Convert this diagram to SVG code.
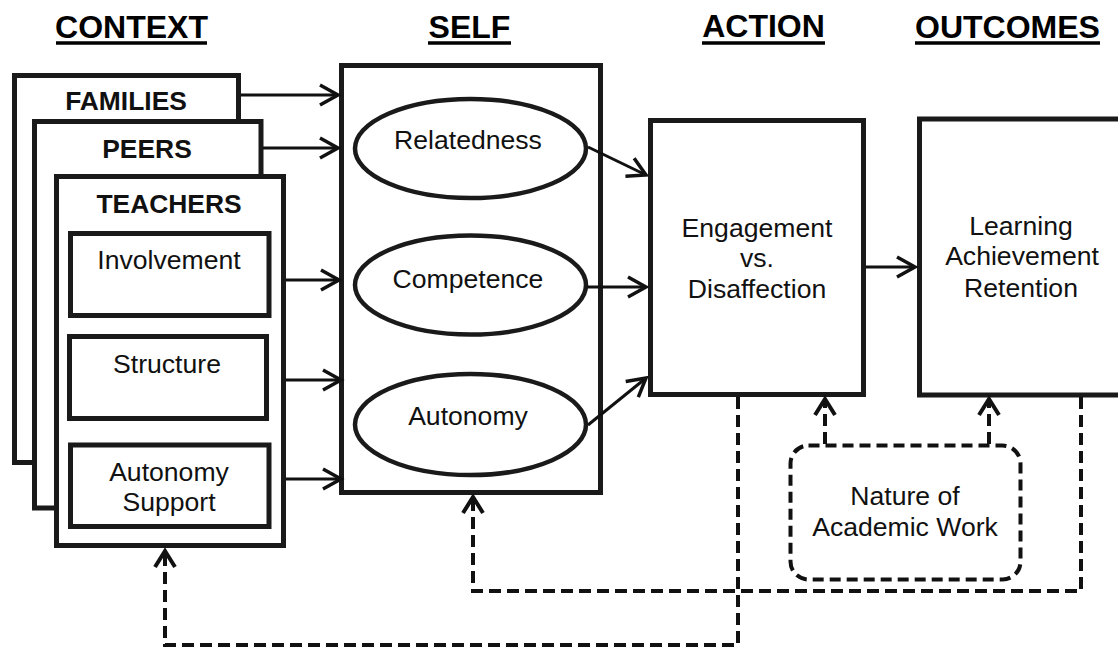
<svg xmlns="http://www.w3.org/2000/svg" width="1118" height="648" viewBox="0 0 1118 648">
  <defs>
    <marker id="arr" viewBox="-22 -12 26 24" refX="0" refY="0" markerWidth="26" markerHeight="24" markerUnits="userSpaceOnUse" orient="auto">
      <path d="M-18,-10 L0,0 L-18,10" fill="none" stroke="#111" stroke-width="3.5" stroke-dasharray="none"/>
    </marker>
    <marker id="darr" viewBox="-22 -12 26 24" refX="0" refY="0" markerWidth="26" markerHeight="24" markerUnits="userSpaceOnUse" orient="auto">
      <path d="M-16,-10 L0,0 L-16,10" fill="none" stroke="#111" stroke-width="4" stroke-dasharray="none"/>
    </marker>
  </defs>
  <style>
    .box { fill: #fff; stroke: #1a1a1a; stroke-width: 5; }
    .ell { fill: #fff; stroke: #1a1a1a; stroke-width: 4.5; }
    .t { font-family: "Liberation Sans", Arial, sans-serif; font-size: 26.6px; fill: #111; text-anchor: middle; }
    .tb { font-family: "Liberation Sans", Arial, sans-serif; font-size: 26.4px; font-weight: bold; fill: #111; text-anchor: middle; }
    .h { font-family: "Liberation Sans", Arial, sans-serif; font-size: 32px; font-weight: bold; fill: #000; text-anchor: middle; }
    .ul { stroke: #000; stroke-width: 3.5; }
    .con { fill: none; stroke: #111; stroke-width: 3; marker-end: url(#arr); }
    .dcon { fill: none; stroke: #111; stroke-width: 4; stroke-dasharray: 12 6; }
    .dbox { fill: #fff; stroke: #111; stroke-width: 4; stroke-dasharray: 11 6; }
  </style>
  <rect width="1118" height="648" fill="#fff"/>

  <g id="headers">
    <text class="h" x="131.5" y="38">CONTEXT</text>
    <line class="ul" x1="56" y1="43" x2="207" y2="43"/>
    <text class="h" x="469.5" y="38">SELF</text>
    <line class="ul" x1="428" y1="43" x2="511" y2="43"/>
    <text class="h" x="763.5" y="37">ACTION</text>
    <line class="ul" x1="702" y1="43" x2="825" y2="43"/>
    <text class="h" x="1007.5" y="38">OUTCOMES</text>
    <line class="ul" x1="915" y1="43" x2="1100" y2="43"/>
  </g>

  <g id="families">
    <rect class="box" x="14.5" y="75.5" width="224" height="387"/>
    <text class="tb" x="126" y="110">FAMILIES</text>
  </g>
  <g id="peers">
    <rect class="box" x="34.5" y="121.5" width="226.5" height="386.5"/>
    <text class="tb" x="147" y="158">PEERS</text>
  </g>
  <g id="teachers">
    <rect class="box" x="56.5" y="176.5" width="227" height="369"/>
    <text class="tb" x="169" y="213">TEACHERS</text>
  </g>
  <g id="involvement">
    <rect class="box" x="70.5" y="233.5" width="198.5" height="82"/>
    <text class="t" x="169" y="269">Involvement</text>
  </g>
  <g id="structure">
    <rect class="box" x="69.5" y="336.5" width="197" height="82"/>
    <text class="t" x="167" y="373">Structure</text>
  </g>
  <g id="autonomy-support">
    <rect class="box" x="70.5" y="445" width="198.5" height="81.5"/>
    <text class="t" x="169" y="481">Autonomy</text>
    <text class="t" x="169" y="511">Support</text>
  </g>

  <g id="self">
    <rect class="box" x="341.5" y="65.5" width="259" height="427"/>
  </g>
  <g id="relatedness">
    <ellipse class="ell" cx="470.5" cy="148.5" rx="115.5" ry="49.5"/>
    <text class="t" x="468" y="149">Relatedness</text>
  </g>
  <g id="competence">
    <ellipse class="ell" cx="470.5" cy="285" rx="115.5" ry="49.5"/>
    <text class="t" x="468" y="288">Competence</text>
  </g>
  <g id="autonomy">
    <ellipse class="ell" cx="470.5" cy="424.5" rx="115.5" ry="50.5"/>
    <text class="t" x="468" y="425">Autonomy</text>
  </g>

  <g id="engagement">
    <rect class="box" x="650.5" y="120.5" width="213" height="274"/>
    <text class="t" x="757" y="237">Engagement</text>
    <text class="t" x="757" y="267">vs.</text>
    <text class="t" x="757" y="298">Disaffection</text>
  </g>
  <g id="outcomes">
    <rect class="box" x="919.5" y="119" width="220" height="276"/>
    <text class="t" x="1021" y="235">Learning</text>
    <text class="t" x="1022" y="265">Achievement</text>
    <text class="t" x="1021" y="297">Retention</text>
  </g>

  <g id="nature">
    <rect class="dbox" x="790.5" y="445.5" width="230" height="134" rx="18" ry="18"/>
    <text class="t" x="905" y="505">Nature of</text>
    <text class="t" x="905" y="536">Academic Work</text>
  </g>

  <g id="connectors">
    <path class="con" d="M241,95 H338"/>
    <path class="con" d="M263,148 H338"/>
    <path class="con" d="M286,280 H339"/>
    <path class="con" d="M286,380 H341"/>
    <path class="con" d="M286,479 H341"/>
    <path class="con" d="M588,147 L646,175"/>
    <path class="con" d="M587,287 H646"/>
    <path class="con" d="M588,425 L646,378"/>
    <path class="con" d="M866,267 H915"/>
    <path class="dcon" d="M738,397 V645 H165 V551" marker-end="url(#darr)"/>
    <path class="dcon" d="M1081,397 V591 H473 V497" marker-end="url(#darr)"/>
    <path class="dcon" d="M825,444 V399" marker-end="url(#darr)"/>
    <path class="dcon" d="M989,444 V399" marker-end="url(#darr)"/>
  </g>
</svg>
